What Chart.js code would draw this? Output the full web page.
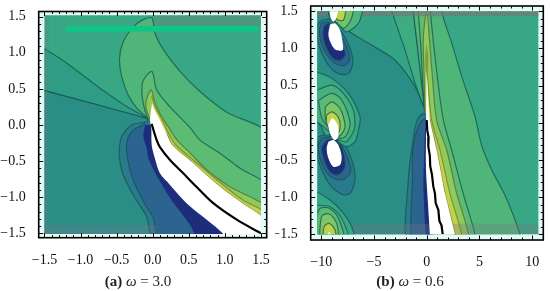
<!DOCTYPE html>
<html><head><meta charset="utf-8">
<script src="https://cdn.jsdelivr.net/npm/chart.js@4"></script>
<style>
html,body{margin:0;padding:0;background:#fff;width:550px;height:291px;overflow:hidden}
.c{position:absolute;top:0;width:275px;height:291px}
canvas{filter:blur(.35px)}
.cap{position:absolute;top:273px;font:15px "Liberation Serif",serif;color:#222;white-space:nowrap;transform:translateX(-50%)}
</style></head><body>
<div class="c" style="left:0"><canvas id="a" width="275" height="291"></canvas></div>
<div class="c" style="left:275px"><canvas id="b" width="275" height="291"></canvas></div>
<div class="cap" style="left:138px"><b>(a)</b> <i>ω</i> = 3.0</div>
<div class="cap" style="left:410px"><b>(b)</b> <i>ω</i> = 0.6</div>
<script>
// ---------- tick values ----------
const aTicks=[-1.5,-1,-0.5,0,0.5,1,1.5];
const bXTicks=[-10,-5,0,5,10];
const bYTicks=[-1.5,-1,-0.5,0,0.5,1,1.5];

// ---------- panel (a) contour regions, [x,y] ----------
const aBase=[[-1.7,-1.7],[1.7,-1.7],[1.7,1.7],[-1.7,1.7]];
const aTeal=[[-1.7,0.53],[-1.5,0.475],[-0.73,0.27],[-0.08,0.09],[0,0],[1.0,-1.7],[-1.7,-1.7]];
const aMid=[[-1.7,1.2],[-1.5,1.06],[-1.19,0.855],[-0.73,0.51],[-0.36,0.255],[-0.08,0.09],[-0.73,0.27],[-1.5,0.475],[-1.7,0.53]];
const aBlue2=[[-0.08,0.045],[-0.29,0.0],[-0.43,-0.16],[-0.46,-0.3],[-0.46,-0.46],[-0.41,-0.69],[-0.27,-0.97],[-0.083,-1.27],[0.01,-1.55],[1,-1.55],[0,0]];
const aBlue1=[[-0.105,0.02],[-0.29,-0.09],[-0.36,-0.25],[-0.35,-0.46],[-0.28,-0.735],[-0.13,-1.06],[0.01,-1.29],[0.08,-1.55],[1,-1.55],[0,0]];
const aNavy=[[-0.105,0],[-0.13,-0.16],[-0.083,-0.32],[-0.06,-0.46],[0.055,-0.7],[0.24,-1.01],[0.52,-1.385],[0.62,-1.55],[1,-1.55],[0,0]];
const aEdge=[[1.6,-1.32],[1.49,-1.246],[1.18,-1.04],[0.85,-0.785],[0.56,-0.526],[0.27,-0.277],[0.19,-0.115],[0,0]];
const aBandTop=[[-0.06,0.04],[-0.08,0.1],[-0.22,0.235],[-0.34,0.415],[-0.43,0.67],[-0.46,0.92],[-0.41,1.15],[-0.27,1.36],[-0.13,1.46],[-0.01,1.48],[0.03,1.27],[0.15,1.04],[0.38,0.74],[0.66,0.46],[1.02,0.18],[1.6,-0.14]];
const aTier2Top=[[-0.03,0.02],[-0.06,0.08],[-0.11,0.21],[-0.15,0.44],[-0.13,0.62],[-0.01,0.74],[0.055,0.485],[0.24,0.25],[0.52,-0.04],[0.655,-0.21],[0.93,-0.39],[1.21,-0.6],[1.6,-0.85]];
const aTier3Top=[[-0.02,0.02],[-0.06,0.14],[-0.095,0.25],[-0.08,0.37],[-0.02,0.485],[0.02,0.345],[0.1,0.16],[0.22,-0.03],[0.33,-0.2],[0.52,-0.39],[0.75,-0.62],[1.07,-0.855],[1.6,-1.14]];
const aTier4Top=[[-0.015,0.4],[0.03,0.26],[0.12,0.09],[0.21,-0.095],[0.32,-0.277],[0.61,-0.526],[0.92,-0.785],[1.25,-1.04],[1.49,-1.163],[1.6,-1.24]];
const aWhite=[[-0.01,0.3],[0.018,0.23],[0.1,0.07],[0.19,-0.115],[0.27,-0.277],[0.56,-0.526],[0.85,-0.785],[1.18,-1.04],[1.49,-1.246],[1.6,-1.32],[1.6,-1.6],[1.0,-1.6],[0.97,-1.5],[0.52,-1.13],[0.38,-0.99],[0.24,-0.83],[0.1,-0.67],[0.03,-0.46],[-0.014,-0.28],[-0.02,-0.04],[-0.04,0.07]];
const aCurve=[[-0.015,0.015],[0.055,-0.21],[0.1,-0.305],[0.24,-0.485],[0.42,-0.665],[0.61,-0.86],[0.835,-1.08],[1.17,-1.315],[1.5,-1.5]];
const aStripBottom=[[-1.6,-1.39],[0.05,-1.39],[0.05,-1.6],[-1.6,-1.6]];
const aStripTop=[[0,1.37],[1.6,1.37],[1.6,1.6],[0,1.6]];
const aStripLeft=[[-1.6,-1.6],[-1.44,-1.6],[-1.44,1.6],[-1.6,1.6]];
const aBar=[[-1.2,1.37],[1.46,1.37],[1.46,1.29],[-1.2,1.29]];

// ---------- panel (b) contour regions, [x,y] ----------
const bBase=[[-11,-1.7],[11,-1.7],[11,1.7],[-11,1.7]];
const bLeftUpper=[[-3.6,1.7],[-3.32,1.5],[-2.06,0.98],[-1.11,0.53],[-0.16,0.15],[-3,0.5],[-11,0.5],[-11,1.7]];
const bBetween=[[-3.6,1.7],[-3.32,1.5],[-2.06,0.98],[-1.11,0.53],[-0.16,0.15],[-0.47,0.53],[-0.95,1.11],[-1.27,1.5],[-1.3,1.7]];
const bTealLeft=[[-0.16,0.17],[-1.11,0.485],[-3.0,0.84],[-5.53,1.07],[-7.43,1.24],[-8,1.4],[-9,1.7],[-11,1.7],[-11,-1.7],[0.5,-1.7],[0,0]];
const bBand=[[-0.16,0.15],[-0.47,0.53],[-0.95,1.11],[-1.27,1.5],[-1.3,1.7],[1.5,1.7],[1.42,1.5],[2.37,1.07],[3.32,0.62],[4.58,0.08],[5.2,-0.3],[6.16,-0.636],[7.4,-0.97],[8.84,-1.5],[9,-1.7],[2.8,-1.7],[2.68,-1.5],[1.73,-0.95],[0.95,-0.37],[0.31,0.03],[0,0]];
const bTier2=[[-0.1,0.1],[-0.3,0.35],[-0.55,1.0],[-0.8,1.5],[-0.85,1.7],[0.4,1.7],[0.35,1.5],[0.95,0.685],[1.57,0.04],[2.37,-0.37],[3.44,-0.945],[4.58,-1.5],[4.7,-1.7],[2.8,-1.7],[2.68,-1.5],[1.73,-0.95],[0.95,-0.37],[0.31,0.03],[0,0]];
const bTier3=[[-0.15,0.1],[-0.26,0.685],[-0.32,1.14],[0,1.5],[0.25,1.14],[0.5,0.685],[0.95,0.03],[1.9,-0.37],[2.84,-0.95],[3.94,-1.48],[4,-1.7],[2.8,-1.7],[2.68,-1.5],[1.73,-0.95],[0.95,-0.37],[0.31,0.03],[0,0]];
const bTier4=[[0,0.75],[0.2,0.4],[0.47,0.03],[1.26,-0.37],[2.2,-0.95],[3.32,-1.5],[3.4,-1.7],[2.8,-1.7],[2.68,-1.5],[1.73,-0.95],[0.95,-0.37],[0.31,0.03],[-0.05,0.2]];
const bOlive=[[0,1.05],[0.13,0.9],[0.12,0.72],[0,0.68],[-0.12,0.75],[-0.13,0.92]];
const bBlueOut=[[-0.05,0.1],[-0.32,0.126],[-0.95,0.015],[-1.36,-0.3],[-1.74,-0.748],[-1.84,-1.7],[0.4,-1.7],[0,0]];
const bBlueIn=[[-0.1,0.06],[-0.63,0],[-1.27,-0.3],[-1.36,-0.748],[-1.33,-1.7],[0.4,-1.7],[0,0]];
const bNavy=[[-0.05,0.04],[-0.16,-0.1],[-0.32,-0.86],[0,-1.7],[0.4,-1.7],[0.31,-1.5],[-0.07,-0.63]];
const bWhite=[[0,0.68],[0.08,0.5],[0.2,0.2],[0.31,0.03],[0.95,-0.37],[1.73,-0.95],[2.68,-1.5],[2.8,-1.7],[0.35,-1.7],[0.31,-1.5],[-0.07,-0.63],[-0.05,0.04],[-0.05,0.2]];
const bCurve=[[0,0.036],[0.05,-0.1],[0.18,-0.2],[0.15,-0.32],[0.3,-0.45],[0.33,-0.58],[0.5,-0.7],[0.63,-0.86],[0.78,-0.95],[0.85,-1.08],[1.1,-1.17],[1.2,-1.32],[1.4,-1.38],[1.52,-1.5]];
const bStripTop=[[-11,1.43],[11,1.43],[11,1.7],[-11,1.7]];
const bStripBottom=[[-11,-1.36],[11,-1.36],[11,-1.7],[-11,-1.7]];

// lobe A (upper blue)
const bA2=[[-9.16,1.4],[-8.06,1.22],[-7.27,1.0],[-7.01,0.8],[-7.43,0.66],[-8.37,0.66],[-9.32,0.775],[-10.11,1.0],[-10.43,1.22],[-10.11,1.36]];
const bA1=[[-9.32,1.36],[-8.22,1.18],[-7.52,1.0],[-7.33,0.84],[-7.74,0.775],[-8.53,0.785],[-9.32,0.89],[-9.95,1.05],[-10.17,1.22],[-9.95,1.335]];
const bA0=[[-9.32,1.336],[-7.9,1.0],[-7.74,0.91],[-8.22,0.84],[-8.85,0.865],[-9.48,1.0],[-9.8,1.157],[-9.73,1.29]];
const bAW=[[-9.16,1.32],[-8.69,1.336],[-8.22,1.246],[-7.96,1.067],[-7.96,0.977],[-8.6,0.977],[-9.0,1.044],[-9.32,1.179]];
// top green lobe
const bT1=[[-6.1,1.6],[-6.1,1.5],[-6.48,1.335],[-7.6,1.22],[-8.22,1.31],[-9.2,1.42],[-9.4,1.6]];
const bT2=[[-6.95,1.6],[-6.95,1.5],[-7.27,1.36],[-7.9,1.27],[-8.5,1.34],[-9.2,1.45],[-9.4,1.6]];
const bT3=[[-7.68,1.6],[-7.68,1.5],[-7.9,1.38],[-8.4,1.38],[-9.0,1.46],[-9.3,1.6]];
const bTW=[[-9.32,1.6],[-8.37,1.6],[-8.53,1.425],[-8.85,1.358],[-9.1,1.4]];
// lobe B (middle green)
const bB1=[[-11,0.75],[-10.43,0.685],[-9.0,0.596],[-7.43,0.395],[-6.32,0.08],[-6.48,-0.1],[-6.8,-0.255],[-7.6,-0.32],[-8.37,-0.255],[-8.53,-0.21],[-9.0,-0.15],[-9.6,-0.17],[-10,-0.05],[-11,0.1]];
const bB2=[[-11,0.46],[-10.43,0.44],[-9.0,0.506],[-7.9,0.395],[-6.95,0.17],[-6.8,-0.03],[-6.95,-0.12],[-7.6,-0.255],[-8.28,-0.233],[-9,-0.15],[-9.8,-0.05],[-11,0.1]];
const bB3=[[-10.27,0.3],[-9,0.395],[-8.06,0.305],[-7.27,0],[-7.6,-0.165],[-8.15,-0.21],[-9,-0.1],[-9.9,0.05]];
const bB4=[[-9.6,0.215],[-9,0.28],[-8.22,0.19],[-7.74,-0.03],[-7.9,-0.12],[-8.37,-0.18],[-9,-0.08],[-9.6,0.05]];
const bB5=[[-9.5,0.1],[-9,0.145],[-8.4,0.08],[-8.22,-0.08],[-8.7,-0.19],[-9.2,-0.1],[-9.5,0]];
const bBW=[[-9.33,-0.03],[-8.95,0.06],[-8.44,-0.03],[-8.38,-0.19],[-8.75,-0.235],[-9.17,-0.14]];
// lobe C (lower blue)
const bC2=[[-10.27,-0.188],[-8.85,-0.143],[-7.74,-0.3],[-6.95,-0.569],[-6.79,-0.76],[-7.1,-0.92],[-7.58,-0.97],[-8.22,-0.95],[-9.16,-0.838],[-9.95,-0.636],[-10.43,-0.412]];
const bC1=[[-9.95,-0.21],[-8.85,-0.188],[-7.9,-0.345],[-7.27,-0.569],[-7.27,-0.681],[-7.9,-0.761],[-8.85,-0.748],[-9.64,-0.636],[-10.17,-0.457],[-10.27,-0.3]];
const bC0=[[-9.48,-0.233],[-8.69,-0.224],[-8.06,-0.345],[-7.74,-0.546],[-7.9,-0.636],[-8.53,-0.703],[-9.16,-0.658],[-9.64,-0.524],[-9.95,-0.345]];
const bCW=[[-9.32,-0.255],[-8.85,-0.233],[-8.37,-0.3],[-8.06,-0.457],[-8.22,-0.569],[-8.85,-0.591],[-9.32,-0.479],[-9.48,-0.345]];
// lobe D (bottom green)
const bD1=[[-11,-0.92],[-10.49,-0.927],[-9.16,-1.04],[-7.9,-1.218],[-7.11,-1.4],[-6.89,-1.6],[-11,-1.6]];
const bD2=[[-11,-1.1],[-10.49,-1.107],[-9.16,-1.129],[-8.06,-1.286],[-7.52,-1.6],[-11,-1.6]];
const bD3=[[-11,-1.28],[-10.49,-1.26],[-10.1,-1.15],[-9.23,-1.15],[-8.37,-1.286],[-7.9,-1.6],[-11,-1.6]];
const bD4=[[-10.17,-1.6],[-9.95,-1.26],[-9.23,-1.227],[-8.53,-1.353],[-8.28,-1.6]];
const bD5=[[-9.86,-1.6],[-9.73,-1.4],[-9.23,-1.353],[-8.69,-1.442],[-8.53,-1.6]];
const bDW=[[-9.48,-1.6],[-9.23,-1.465],[-8.91,-1.6]];

// ---------- palette ----------
const cNavy='#1d2d7c',cBlue1='#2a648f',cBlue2='#2a7a8d',cTeal='#2a8e86',cMid='#2f9d85',cBase='#37a784',
 cBetween='#3dad81',cBand='#50b579',cT2='#5cbc74',cT3='#8ecb5e',cT4='#c0d34d';
const line='rgba(22,80,78,.72)';

function poly(data,color,opts){
  return Object.assign({data:data.map(p=>({x:p[0],y:p[1]})),showLine:true,fill:'shape',backgroundColor:color,
    borderColor:line,borderWidth:1.2,pointRadius:0,tension:0.3,clip:false},opts||{});
}
const closed=d=>d.concat([d[0]]);
const flat={borderWidth:0,tension:0};

const aSets=[
 poly(aBase,cBase,flat),poly(aMid,cMid,{tension:0.2}),poly(aTeal,cTeal,{tension:0}),
 poly(aStripLeft,'rgba(120,120,125,.25)',flat),
 poly(aBlue2,cBlue2),poly(aBlue1,cBlue1),poly(aNavy,cNavy,{borderWidth:0}),
 poly(aStripBottom,'rgba(125,115,140,.30)',flat),
 poly(aStripTop,'rgba(125,120,120,.30)',flat),
 poly(aBandTop.concat(aEdge),cBand),poly(aTier2Top.concat(aEdge),cT2),
 poly(aTier3Top.concat(aEdge),cT3,{borderColor:'rgba(90,110,50,.8)'}),
 poly(aTier4Top.concat(aEdge),cT4,{borderColor:'rgba(120,130,40,.8)'}),
 poly(aWhite,'#fff',{borderWidth:0}),
 poly(aBar,'#10c585',flat),
 {data:aCurve.map(p=>({x:p[0],y:p[1]})),showLine:true,fill:false,borderColor:'#000',borderWidth:2.2,pointRadius:0,tension:0.3}
];
const bSets=[
 poly(bBase,cBase,flat),poly(bLeftUpper,'#35a385',flat),poly(bBetween,cBetween,{tension:0}),
 poly(bTealLeft,cTeal),
 poly(bBand,cBand),poly(bTier2,cT2),poly(bTier3,cT3,{borderColor:'rgba(90,110,50,.8)'}),
 poly(bTier4,cT4,{borderColor:'rgba(120,130,40,.8)'}),poly(bOlive,'#7f9a3f',{borderWidth:0}),
 poly(bBlueOut,cBlue2),poly(bBlueIn,cBlue1),poly(bNavy,cNavy,{borderWidth:0,tension:0.1}),
 poly(bStripTop,'rgba(125,115,120,.62)',flat),poly(bStripBottom,'rgba(120,115,130,.30)',flat),
 poly(closed(bA2),cBlue2),poly(closed(bA1),cBlue1),poly(closed(bA0),cNavy),
 poly(closed(bC2),cBlue2),poly(closed(bC1),cBlue1),poly(closed(bC0),cNavy),
 poly(bT1,cBand),poly(bT2,'#74c36a'),poly(bT3,cT4),
 poly(closed(bB1),cBase),poly(closed(bB2),'#45b07e'),poly(closed(bB3),'#5abb74'),poly(closed(bB4),'#7ec666'),poly(closed(bB5),'#c0d34d'),
 poly(bD1,cBase),poly(bD2,'#45b07e'),poly(bD3,'#5abb74'),poly(bD4,'#7ec666'),poly(bD5,'#b9cf4e'),
 poly(closed(bAW),'#fff',{borderWidth:0}),poly(closed(bBW),'#fff',{borderWidth:0}),poly(closed(bCW),'#fff',{borderWidth:0}),
 poly(bTW,'#fff',{borderWidth:0}),poly(bDW,'#fff',{borderWidth:0}),
 poly(bWhite,'#fff',{borderWidth:0,tension:0.1}),
 {data:bCurve.map(p=>({x:p[0],y:p[1]})),showLine:true,fill:false,borderColor:'#000',borderWidth:2.2,pointRadius:0,tension:0}
];

const fmt=(d)=>v=>{const s=Math.abs(v).toFixed(d);return (v<0?'\u2212':'')+s;};
function frame(cfg){return {
 id:'frame',
 beforeDatasetsDraw(ch){
  const {ctx,chartArea:A,scales:{x,y}}=ch;
  ctx.fillStyle='#e4faf7';ctx.fillRect(A.left,A.top,A.right-A.left,A.bottom-A.top);
  ctx.save();ctx.beginPath();
  const l=x.getPixelForValue(cfg.clipX[0]),r=x.getPixelForValue(cfg.clipX[1]),t=y.getPixelForValue(cfg.clipY[1]),b=y.getPixelForValue(cfg.clipY[0]);
  ctx.rect(l,t,r-l,b-t);ctx.clip();
 },
 afterDatasetsDraw(ch){ch.ctx.restore();},
 afterDraw(ch){
  const {ctx,chartArea:A,scales:{x,y}}=ch;
  ctx.save();ctx.strokeStyle='#000';ctx.lineWidth=1;
  const tick=(p,len,hor)=>{ctx.beginPath();
    if(hor){ctx.moveTo(p,A.bottom);ctx.lineTo(p,A.bottom-len);ctx.moveTo(p,A.top);ctx.lineTo(p,A.top+len);}
    else{ctx.moveTo(A.left,p);ctx.lineTo(A.left+len,p);ctx.moveTo(A.right,p);ctx.lineTo(A.right-len,p);}
    ctx.stroke();};
  for(let i=0;;i++){const v=cfg.xStart+i*cfg.xMinor;if(v>cfg.xEnd+1e-6)break;tick(Math.round(x.getPixelForValue(v))+.5,2.5,true);}
  for(let i=0;;i++){const v=cfg.yStart+i*cfg.yMinor;if(v>cfg.yEnd+1e-6)break;tick(Math.round(y.getPixelForValue(v))+.5,2.5,false);}
  cfg.xTicks.forEach(v=>tick(Math.round(x.getPixelForValue(v))+.5,4.5,true));
  cfg.yTicks.forEach(v=>tick(Math.round(y.getPixelForValue(v))+.5,4.5,false));
  ctx.lineWidth=1.6;ctx.strokeRect(A.left,A.top,A.right-A.left,A.bottom-A.top);
  ctx.restore();
 }};}

function make(id,sets,c){
 const font={family:'"Liberation Serif",serif',size:14};
 // Chart.js paints the first dataset on top, so the back-to-front list is reversed here
 return new Chart(document.getElementById(id),{type:'scatter',data:{datasets:sets.slice().reverse()},
  plugins:[frame(c)],
  options:{responsive:false,animation:false,
   layout:{autoPadding:false,padding:{left:0,right:c.padR,top:c.padT,bottom:0}},
   plugins:{legend:{display:false},tooltip:{enabled:false},title:{display:false}},
   scales:{
    x:{type:'linear',min:c.xMin,max:c.xMax,grid:{display:false},border:{display:false},
       afterBuildTicks:s=>{s.ticks=c.xTicks.map(v=>({value:v}));},
       afterFit:s=>{s.height=c.axH;s.paddingLeft=0;s.paddingRight=0;s.paddingTop=0;s.paddingBottom=0;},
       ticks:{font,color:'#111',padding:c.xPad,maxRotation:0,autoSkip:false,callback:c.xFmt}},
    y:{type:'linear',min:c.yMin,max:c.yMax,grid:{display:false},border:{display:false},
       afterBuildTicks:s=>{s.ticks=c.yTicks.map(v=>({value:v}));},
       afterFit:s=>{s.width=c.axW;s.paddingLeft=0;s.paddingRight=0;s.paddingTop=0;s.paddingBottom=0;},
       ticks:{font,color:'#111',padding:5,autoSkip:false,callback:fmt(1)}}
   }}});
}
make('a',aSets,{xMin:-1.58,xMax:1.58,yMin:-1.561,yMax:1.572,padR:8.3,padT:11.5,axH:53.3,axW:38.7,xPad:6,
 xTicks:aTicks,yTicks:aTicks,xFmt:fmt(1),clipX:[-1.5,1.5],clipY:[-1.51,1.52],
 xStart:-1.5,xEnd:1.5,xMinor:0.1,yStart:-1.5,yEnd:1.5,yMinor:0.1});
make('b',bSets,{xMin:-10.995,xMax:11.05,yMin:-1.577,yMax:1.569,padR:6.7,padT:6,axH:51,axW:35.7,xPad:6,
 xTicks:bXTicks,yTicks:bYTicks,xFmt:fmt(0),clipX:[-10.36,10.58],clipY:[-1.5,1.5],
 xStart:-10,xEnd:10,xMinor:1,yStart:-1.5,yEnd:1.5,yMinor:0.1});
</script></body></html>
